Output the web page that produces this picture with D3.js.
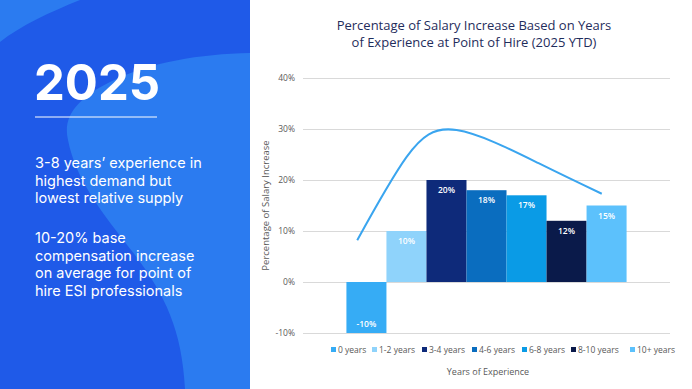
<!DOCTYPE html>
<html>
<head>
<meta charset="utf-8">
<script src="https://cdn.jsdelivr.net/npm/d3@7"></script>
<style>
  body { margin: 0; background: #fff; }
  svg { display: block; }
  text { font-family: "Open Sans", sans-serif; }
</style>
</head>
<body>
<div id="chart"></div>
<script>
// bar series (one category, 7 series like the excel chart)
var series = ["0 years", "1-2 years", "3-4 years", "4-6 years", "6-8 years", "8-10 years", "10+ years"];
var values = [-10, 10, 20, 18, 17, 12, 15];
var colors = ["#36acf5", "#8fd3fb", "#0e2a7a", "#0a6dbf", "#0a9be6", "#0a1a4a", "#5cc1fc"];
var yTicks = [-10, 0, 10, 20, 30, 40];
// hand drawn trend curve: position in bar index, value in %
var trendIdx = [-0.23, 1, 2.25, 4.3, 5.88];
var trendVal = [8.2, 24.5, 29.8, 23.3, 17.3];

var W = 692, H = 389;
var svg = d3.select("#chart").append("svg").attr("width", W).attr("height", H);

// ---- left blue panel ----
var panel = svg.append("g");
panel.append("rect").attr("x", 0).attr("y", 0).attr("width", 250).attr("height", H).attr("fill", "#1f5ae8");
panel.append("path")
    .attr("d", "M0,0 L80,0 C50,12 20,26 0,42 Z")
    .attr("fill", "#2b7bf0");
panel.append("path")
    .attr("d", "M250,53 C200,54 150,62 110,82 C80,97 62,115 68,140 C76,180 100,210 135,255 C165,295 182,330 185,389 L250,389 Z")
    .attr("fill", "#2b7bf0");

panel.append("text").attr("x", 34).attr("y", 100)
    .attr("fill", "#fff").attr("font-size", 49).attr("font-weight", 700)
    .style("font-family", "Inter, sans-serif")
    .text("2025");
panel.append("line").attr("x1", 35).attr("x2", 157).attr("y1", 117).attr("y2", 117)
    .attr("stroke", "#fff").attr("stroke-width", 1);

var para1 = ["3-8 years\u2019 experience in", "highest demand but", "lowest relative supply"];
var para2 = ["10-20% base", "compensation increase", "on average for point of", "hire ESI professionals"];
function para(lines, y0) {
  panel.append("g").selectAll("text")
    .data(lines).enter().append("text")
    .attr("x", 35)
    .attr("y", function(d, i) { return y0 + i * 17.5; })
    .attr("fill", "#fff").attr("font-size", 14.5)
    .style("font-family", "Inter, sans-serif")
    .text(function(d) { return d; });
}
para(para1, 168);
para(para2, 243);

// ---- chart ----
var margin = {top: 78, left: 303, right: W - 670, bottom: H - 333};
var width = W - margin.left - margin.right,
    height = H - margin.top - margin.bottom;

var g = svg.append("g").attr("transform", "translate(" + margin.left + "," + margin.top + ")");

var y = d3.scaleLinear().domain([-10, 40]).range([height, 0]);
var x0 = d3.scaleBand().domain(["2025"]).range([0, width]).paddingOuter(0.155);
var x1 = d3.scaleBand().domain(series).range([x0("2025"), x0("2025") + x0.bandwidth()]);
var xi = d3.scaleLinear().domain([0, 1]).range([x1(series[0]) + x1.bandwidth() / 2, x1(series[1]) + x1.bandwidth() / 2]);

// grid + y labels
var yAxis = g.append("g")
    .call(d3.axisLeft(y).tickValues(yTicks).tickSize(-width).tickPadding(8)
          .tickFormat(function(d) { return d + "%"; }));
yAxis.select(".domain").remove();
yAxis.selectAll(".tick line").attr("stroke", "#d9d9d9").attr("stroke-width", 1);
yAxis.selectAll(".tick text").attr("fill", "#595959").attr("font-size", 8.5);

// bars
var data = series.map(function(s, i) { return {name: s, value: values[i], color: colors[i]}; });
g.selectAll(".bar").data(data).enter().append("rect")
    .attr("x", function(d) { return x1(d.name); })
    .attr("y", function(d) { return y(Math.max(0, d.value)); })
    .attr("width", x1.bandwidth())
    .attr("height", function(d) { return Math.abs(y(d.value) - y(0)); })
    .attr("fill", function(d) { return d.color; });

g.selectAll(".lbl").data(data).enter().append("text")
    .attr("x", function(d) { return x1(d.name) + x1.bandwidth() / 2; })
    .attr("y", function(d) { return d.value < 0 ? y(d.value) - 6 : y(d.value) + 13; })
    .attr("text-anchor", "middle").attr("fill", "#fff")
    .attr("font-size", 8.5).attr("font-weight", 600)
    .text(function(d) { return d.value + "%"; });

// trend curve
var trend = trendIdx.map(function(d, i) { return [d, trendVal[i]]; });
g.append("path").datum(trend)
    .attr("fill", "none").attr("stroke", "#3aa5ef").attr("stroke-width", 2)
    .attr("d", d3.line()
      .x(function(d) { return xi(d[0]); })
      .y(function(d) { return y(d[1]); })
      .curve(d3.curveNatural));

// title
var titleLines = ["Percentage of Salary Increase Based on Years", "of Experience at Point of Hire (2025 YTD)"];
svg.append("g").selectAll("text").data(titleLines).enter().append("text")
    .attr("x", 474).attr("y", function(d, i) { return 30 + i * 16.5; })
    .attr("text-anchor", "middle")
    .attr("fill", "#1f2d5c").attr("font-size", 13)
    .text(function(d) { return d; });

// y axis title
svg.append("text")
    .attr("transform", "translate(269," + (margin.top + height / 2) + ") rotate(-90)")
    .attr("text-anchor", "middle").attr("fill", "#595959").attr("font-size", 9.5)
    .text("Percentage of Salary Increase");

// legend
var legX = [331, 372, 422, 472, 522, 571, 630];
var leg = svg.append("g").selectAll("g").data(data).enter().append("g")
    .attr("transform", function(d, i) { return "translate(" + legX[i] + ",352)"; });
leg.append("rect").attr("x", 0).attr("y", -5).attr("width", 5).attr("height", 5)
    .attr("fill", function(d) { return d.color; });
leg.append("text").attr("x", 7).attr("y", 0.5).attr("fill", "#595959").attr("font-size", 8.5)
    .text(function(d) { return d.name; });

svg.append("text").attr("x", 488).attr("y", 375).attr("text-anchor", "middle")
    .attr("fill", "#595959").attr("font-size", 9)
    .text("Years of Experience");
</script>
</body>
</html>
